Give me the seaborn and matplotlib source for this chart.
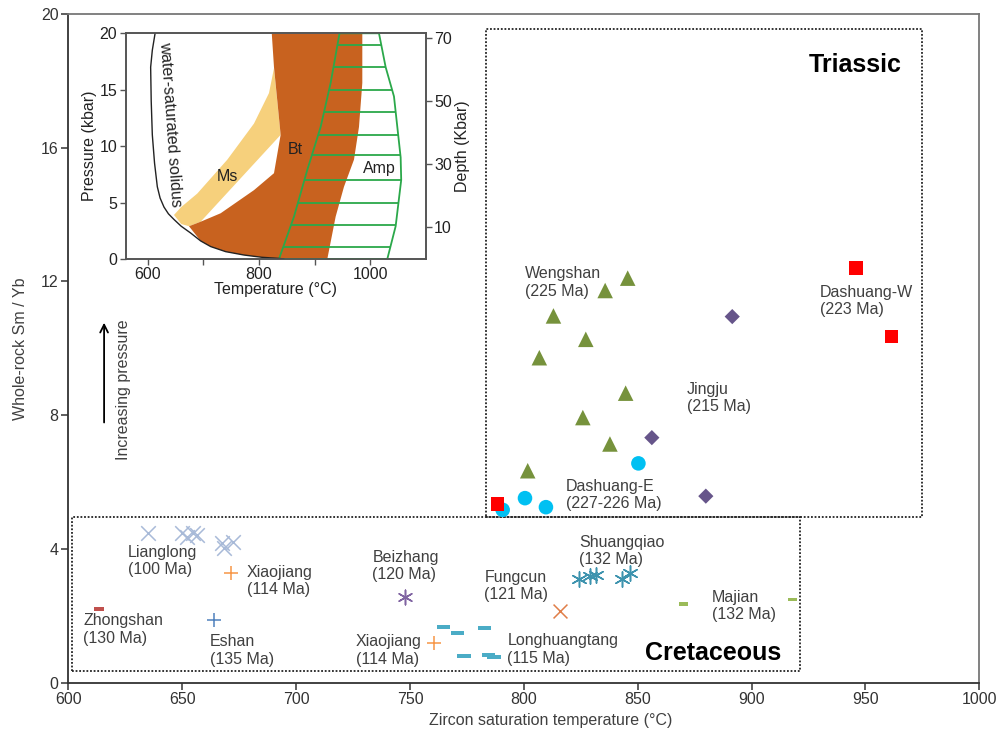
import numpy as np
import pandas as pd
import matplotlib
matplotlib.use("Agg")
import matplotlib.pyplot as plt
from matplotlib.patches import Polygon, Rectangle
import seaborn as sns

###############################################################################
# Data
###############################################################################

# Triassic groups
wengshan_x = [845.6, 835.7, 813.0, 827.2, 806.8, 844.7, 825.9, 837.8, 801.7]
wengshan_y = [12.10, 11.73, 10.97, 10.27, 9.72, 8.66, 7.93, 7.14, 6.34]
jingju_x = [891.5, 856.2, 879.9]
jingju_y = [10.95, 7.33, 5.58]
dashuang_e_x = [850.3, 800.5, 809.7, 790.7]
dashuang_e_y = [6.56, 5.52, 5.25, 5.17]
dashuang_w_x = [788.4, 945.9, 961.5]
dashuang_w_y = [5.34, 12.41, 10.35]

# Cretaceous groups
lianglong_x = [635.1, 649.8, 652.0, 654.6, 656.6, 667.3, 668.4, 672.4]
lianglong_y = [4.47, 4.47, 4.37, 4.49, 4.42, 4.17, 4.02, 4.20]
xiaojiang_x = [671.4, 760.7]
xiaojiang_y = [3.29, 1.20]
zhongshan_x = [613.3]
zhongshan_y = [2.20]
eshan_x = [664.1]
eshan_y = [1.88]
beizhang_x = [747.8]
beizhang_y = [2.55]
fungcun_x = [815.9]
fungcun_y = [2.15]
shuangqiao_x = [824.2, 829.1, 831.6, 843.0, 846.6]
shuangqiao_y = [3.10, 3.20, 3.22, 3.10, 3.27]
longhuang_x = [764.7, 770.8, 782.7, 773.7, 784.4, 786.9]
longhuang_y = [1.66, 1.48, 1.64, 0.80, 0.82, 0.78]
majian_x = [870.0, 918.1]
majian_y = [2.35, 2.49]

# group labels: text, x, y (top-left anchor)
label_text = ["Wengshan\n(225 Ma)", "Jingju\n(215 Ma)", "Dashuang-E\n(227-226 Ma)",
              "Dashuang-W\n(223 Ma)", "Lianglong\n(100 Ma)", "Xiaojiang\n(114 Ma)",
              "Zhongshan\n(130 Ma)", "Eshan\n(135 Ma)", "Beizhang\n(120 Ma)",
              "Fungcun\n(121 Ma)", "Shuangqiao\n(132 Ma)", "Xiaojiang\n(114 Ma)",
              "Longhuangtang\n(115 Ma)", "Majian\n(132 Ma)"]
label_x = [800.5, 871.5, 818.5, 930.0, 626.3, 678.3, 606.6, 662.2, 733.5,
           782.7, 824.2, 726.2, 792.8, 882.5]
label_y = [12.45, 9.00, 6.10, 11.90, 4.12, 3.52, 2.08, 1.45, 3.97,
           3.37, 4.42, 1.45, 1.48, 2.77]

# inset: P-T phase diagram (temperature in C, pressure in kbar)
solidus_t = [613, 608, 605, 606, 608, 612, 617, 622, 629, 637, 647, 660, 677, 695,
             713, 740, 773, 805, 833, 845]
solidus_p = [20, 18.5, 17, 14, 11, 8.5, 6.4, 5.4, 4.6, 4.0, 3.5, 2.9, 2.3, 1.6,
             1.1, 0.65, 0.35, 0.15, 0.06, 0.0]
ms_t = [647, 660, 689, 743, 791, 818, 827, 839, 695, 674, 660]
ms_p = [3.9, 4.6, 5.8, 8.8, 12.0, 14.7, 16.9, 11.0, 3.3, 2.9, 3.1]
bt_t = [823, 827, 839, 827, 791, 731, 695, 674, 695, 713, 740, 773, 805, 833, 845,
        923, 938, 953, 971, 980, 986, 986]
bt_p = [20, 17, 11, 7.6, 6.1, 4.05, 3.3, 2.9, 1.6, 1.1, 0.65, 0.35, 0.15, 0.06, 0.0,
        0.0, 3.75, 6.4, 8.8, 11.7, 15.6, 20]
amp_t = [836, 863, 887, 911, 929, 945, 1016, 1028, 1043, 1055, 1056, 1046, 1031]
amp_p = [0, 3.75, 7.9, 11.7, 15.6, 20, 20, 17, 14.4, 9, 7, 2.9, 0]
amp_hatch_p = [1.1, 3, 5, 7, 9.2, 11, 13, 15, 17, 19]

###############################################################################
# Plot
###############################################################################

sns.set_style("ticks")
plt.rcParams["font.family"] = ["Liberation Sans", "DejaVu Sans"]
plt.rcParams["font.size"] = 11.5

txt_col = "#404040"
spine_col = "#333333"

fig = plt.figure(figsize=(10.02, 7.33), dpi=100)
ax = fig.add_axes([0.0682, 0.0686, 0.9092, 0.9123])


def scatter(x, y, marker, color, s, lw=0.0, filled=True):
    kw = dict(x=x, y=y, marker=marker, s=s, ax=ax, legend=False, zorder=4)
    if filled:
        sns.scatterplot(color=color, edgecolor="none", linewidth=0, **kw)
    else:
        sns.scatterplot(color=color, linewidth=lw, **kw)


dash_long = [(-3.2, -1), (3.2, -1), (3.2, 1), (-3.2, 1)]
dash_short = [(-2.6, -1), (2.6, -1), (2.6, 1), (-2.6, 1)]

scatter(wengshan_x, wengshan_y, "^", "#76923C", 125)
scatter(jingju_x, jingju_y, "D", "#66558A", 60)
scatter(dashuang_e_x, dashuang_e_y, "o", "#00C0F2", 110)
scatter(dashuang_w_x, dashuang_w_y, "s", "#FF0000", 95)

scatter(lianglong_x, lianglong_y, "x", "#A8BAD8", 110, lw=1.1, filled=False)
scatter(xiaojiang_x, xiaojiang_y, "+", "#F79646", 110, lw=1.1, filled=False)
scatter(zhongshan_x, zhongshan_y, dash_short, "#C0504D", 50)
scatter(eshan_x, eshan_y, "+", "#4F81BD", 110, lw=1.1, filled=False)
scatter(beizhang_x, beizhang_y, (6, 2, 0), "#8064A2", 110, lw=1.1, filled=False)
scatter(fungcun_x, fungcun_y, "x", "#E07E48", 100, lw=1.1, filled=False)
scatter(shuangqiao_x, shuangqiao_y, (6, 2, 0), "#3D93AE", 120, lw=1.1, filled=False)
scatter(longhuang_x, longhuang_y, dash_long, "#4BACC6", 90)
scatter(majian_x, majian_y, dash_short, "#9BBB59", 45)

for t, lx, ly in zip(label_text, label_x, label_y):
    ax.text(lx, ly, t, ha="left", va="top", color=txt_col, fontsize=11.5,
            linespacing=1.2, zorder=5)

# period boxes
ax.add_patch(Rectangle((783.3, 4.97), 974.7 - 783.3, 19.55 - 4.97, fill=False,
                       ls=(0, (1, 1)), lw=1.3, ec="#222222", zorder=3))
ax.add_patch(Rectangle((601.8, 0.35), 921.4 - 601.8, 4.97 - 0.35, fill=False,
                       ls=(0, (1, 1)), lw=1.3, ec="#222222", zorder=3))
ax.text(966, 18.48, "Triassic", ha="right", va="center", fontsize=18,
        weight="bold", color="black")
ax.text(913.2, 0.88, "Cretaceous", ha="right", va="center", fontsize=18,
        weight="bold", color="black")

# increasing pressure arrow
ax.annotate("", xy=(615.7, 10.85), xytext=(615.7, 7.7),
            arrowprops=dict(arrowstyle="->", lw=1.3, color="black",
                            mutation_scale=14))
ax.text(624.2, 8.75, "Increasing pressure", rotation=90, ha="center",
        va="center", color=txt_col, fontsize=11.5)

ax.set_xlim(600, 1000)
ax.set_ylim(0, 20)
ax.set_xticks(np.arange(600, 1001, 50))
ax.set_yticks(np.arange(0, 21, 4))
ax.tick_params(direction="out", length=5, width=1.1, color=spine_col,
               labelcolor="#333333", labelsize=11.5)
ax.tick_params(axis="x", pad=1.5)
ax.tick_params(axis="y", pad=2)
for sp in ax.spines.values():
    sp.set_color(spine_col)
    sp.set_linewidth(1.3)
ax.spines["top"].set_color("#777777")
ax.spines["right"].set_color("#777777")
ax.set_xlabel("Zircon saturation temperature (°C)", color=txt_col, fontsize=11.5)
ax.xaxis.set_label_coords(0.530, -0.045)
ax.set_ylabel("Whole-rock Sm / Yb", color=txt_col, fontsize=11.5, labelpad=9)

# ---------------------------------------------------------------- inset
ins = fig.add_axes([0.1254, 0.6467, 0.2994, 0.3079])
ins.set_facecolor("white")

ms_patch = Polygon(np.column_stack([ms_t, ms_p]), closed=True, fc="#F6D07C",
                   ec="none", zorder=1)
bt_patch = Polygon(np.column_stack([bt_t, bt_p]), closed=True, fc="#C8621F",
                   ec="none", zorder=2)
amp_patch = Polygon(np.column_stack([amp_t, amp_p]), closed=True, fill=False,
                    ec="#2BA84A", lw=1.3, zorder=4)
ins.add_patch(ms_patch)
ins.add_patch(bt_patch)
ins.add_patch(amp_patch)
hl = ins.hlines(amp_hatch_p, 800, 1100, colors="#2BA84A", lw=1.3, zorder=3)
hl.set_clip_path(amp_patch)

sol = pd.DataFrame({"t": solidus_t, "p": solidus_p})
sns.lineplot(data=sol, x="t", y="p", sort=False, estimator=None,
             color="#222222", lw=1.0, ax=ins, zorder=5)

ins.text(640.8, 11.9, "water-saturated solidus", rotation=-86, ha="center",
         va="center", color="#222222", fontsize=11.5)
ins.text(743, 7.3, "Ms", ha="center", va="center", color="#222222", fontsize=11.5)
ins.text(866, 9.7, "Bt", ha="center", va="center", color="#222222", fontsize=11.5)
ins.text(1016, 8.0, "Amp", ha="center", va="center", color="#222222",
         fontsize=11.5)

ins.set_xlim(560, 1100)
ins.set_ylim(0, 20)
ins.set_xticks([600, 700, 800, 900, 1000])
ins.set_xticklabels(["600", "", "800", "", "1000"])
ins.set_yticks([0, 5, 10, 15, 20])
ins.tick_params(direction="out", length=4, width=1, color="#555555",
                labelcolor="#222222", labelsize=11.5, pad=2)
ins.set_xlabel("Temperature (°C)", color="#222222", fontsize=11.5, labelpad=0)
ins.set_ylabel("Pressure (kbar)", color="#222222", fontsize=11.5, labelpad=2)
for sp in ins.spines.values():
    sp.set_color("#555555")
    sp.set_linewidth(1.2)

depth = ins.twinx()
depth.set_ylim(0, 71.6)
depth.set_yticks([10, 30, 50, 70])
depth.tick_params(direction="out", length=4, width=1, color="#555555",
                  labelcolor="#222222", labelsize=11.5, pad=2)
depth.set_ylabel("Depth (Kbar)", color="#222222", fontsize=11.5, labelpad=2)
for sp in depth.spines.values():
    sp.set_color("#555555")
    sp.set_linewidth(1.2)

fig.savefig("out.png", dpi=100)
